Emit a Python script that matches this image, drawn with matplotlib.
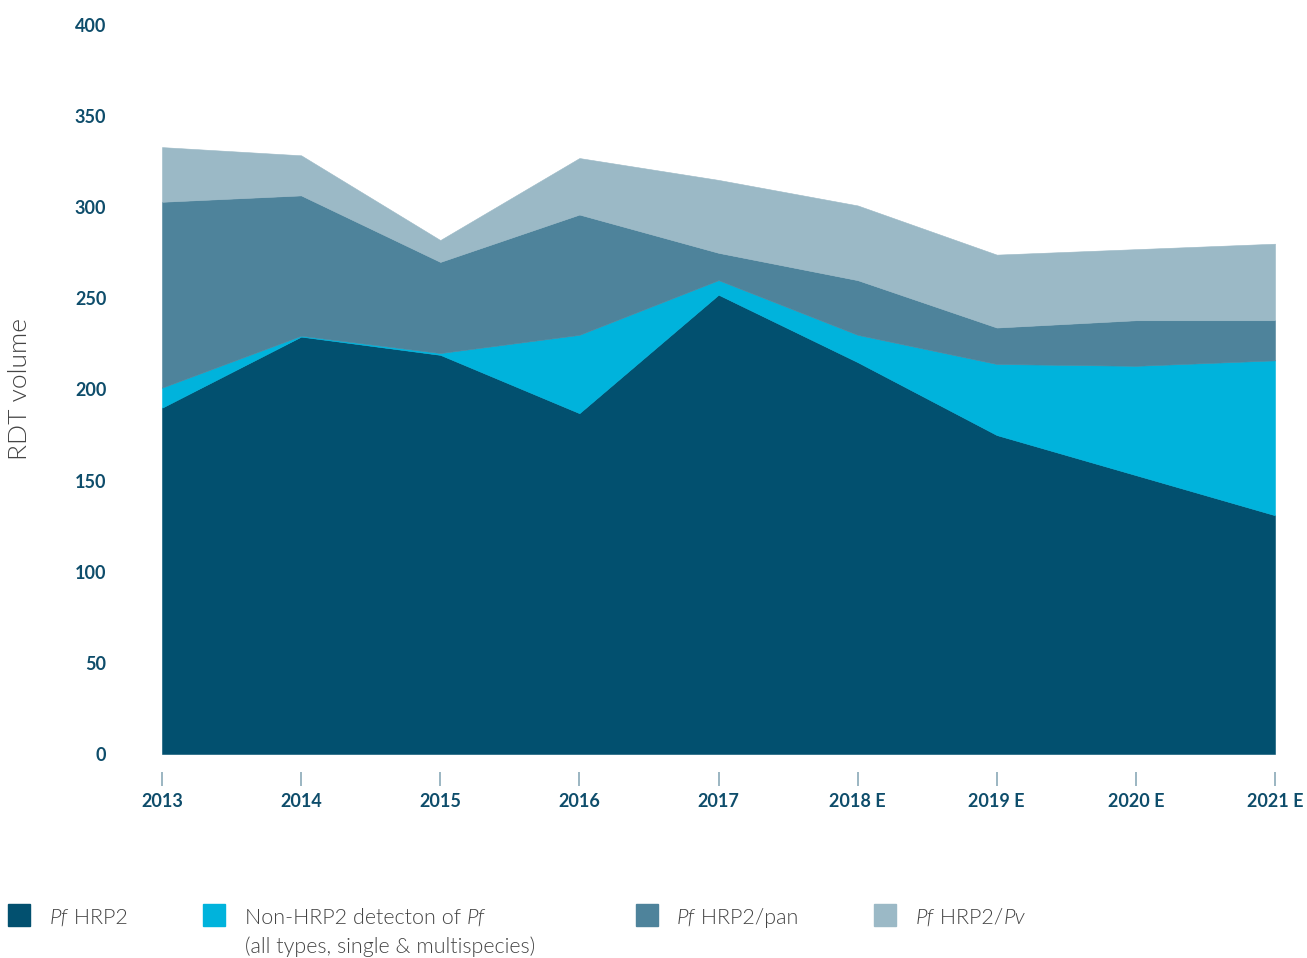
import matplotlib.pyplot as plt
from matplotlib.patches import Rectangle

# RDT volume by test type
years = ["2013", "2014", "2015", "2016", "2017", "2018 E", "2019 E", "2020 E", "2021 E"]
pf_hrp2 = [190, 229, 219, 187, 252, 215, 175, 153, 131]
non_hrp2 = [11, 0.5, 1, 43, 8, 15, 39, 60, 85]
pf_hrp2_pan = [102, 77, 50, 66, 15, 30, 20, 25, 22]
pf_hrp2_pv = [30, 22, 12, 31, 40, 41, 40, 39, 42]

colors = ["#02506f", "#00b3dc", "#4e839b", "#9bb9c6"]
label_color = "#0e4d6b"
text_color = "#444444"

plt.rcParams["font.family"] = ["Lato", "DejaVu Sans"]

fig = plt.figure(figsize=(13.07, 9.58), dpi=100)
ax = fig.add_axes([162 / 1307, 1 - 754 / 958, (1275 - 162) / 1307, (754 - 25) / 958])

x = list(range(len(years)))
ax.stackplot(x, pf_hrp2, non_hrp2, pf_hrp2_pan, pf_hrp2_pv,
             colors=colors, edgecolor="face", linewidth=0.4)

ax.set_xlim(0, len(years) - 1)
ax.set_ylim(0, 400)
ax.set_yticks(range(0, 401, 50))
ax.set_xticks(x)
ax.set_xticklabels(years)

for s in ["top", "right", "left"]:
    ax.spines[s].set_visible(False)
ax.spines["bottom"].set_position(("outward", 13))
ax.spines["bottom"].set_color("none")

ax.tick_params(axis="x", length=10, width=1.2, color="#8aa9b8", pad=5,
               labelsize=13, labelcolor=label_color)
ax.tick_params(axis="y", length=0, pad=40, labelsize=13, labelcolor=label_color)
for lab in ax.get_xticklabels() + ax.get_yticklabels():
    lab.set_fontweight("bold")

fig.text(20 / 1307, 1 - 389 / 958, "RDT volume", rotation=90, ha="center",
         va="center", fontsize=19, color=text_color, fontweight=300)

# legend drawn by hand so the spacing matches the reference
items = [
    (8, 50, colors[0], [("Pf", "italic"), (" HRP2", "normal")], None),
    (203, 245, colors[1], [("Non-HRP2 detecton of ", "normal"), ("Pf", "italic")],
     "(all types, single & multispecies)"),
    (636, 677, colors[2], [("Pf", "italic"), (" HRP2/pan", "normal")], None),
    (874, 916, colors[3], [("Pf", "italic"), (" HRP2/", "normal"), ("Pv", "italic")], None),
]

renderer = fig.canvas.get_renderer()
for x_sq, x_txt, color, parts, second in items:
    fig.patches.append(Rectangle((x_sq / 1307, 1 - 926 / 958), 22 / 1307, 22 / 958,
                                 transform=fig.transFigure, color=color))
    xpos = x_txt
    for txt, style in parts:
        t = fig.text(xpos / 1307, 1 - 916 / 958, txt, fontsize=15.5, style=style,
                     color=text_color, fontweight=300, va="center_baseline")
        xpos = t.get_window_extent(renderer).x1
    if second:
        fig.text(x_txt / 1307, 1 - 945 / 958, second, fontsize=15.5,
                 color=text_color, fontweight=300, va="center_baseline")

fig.savefig("out.png", dpi=100)
